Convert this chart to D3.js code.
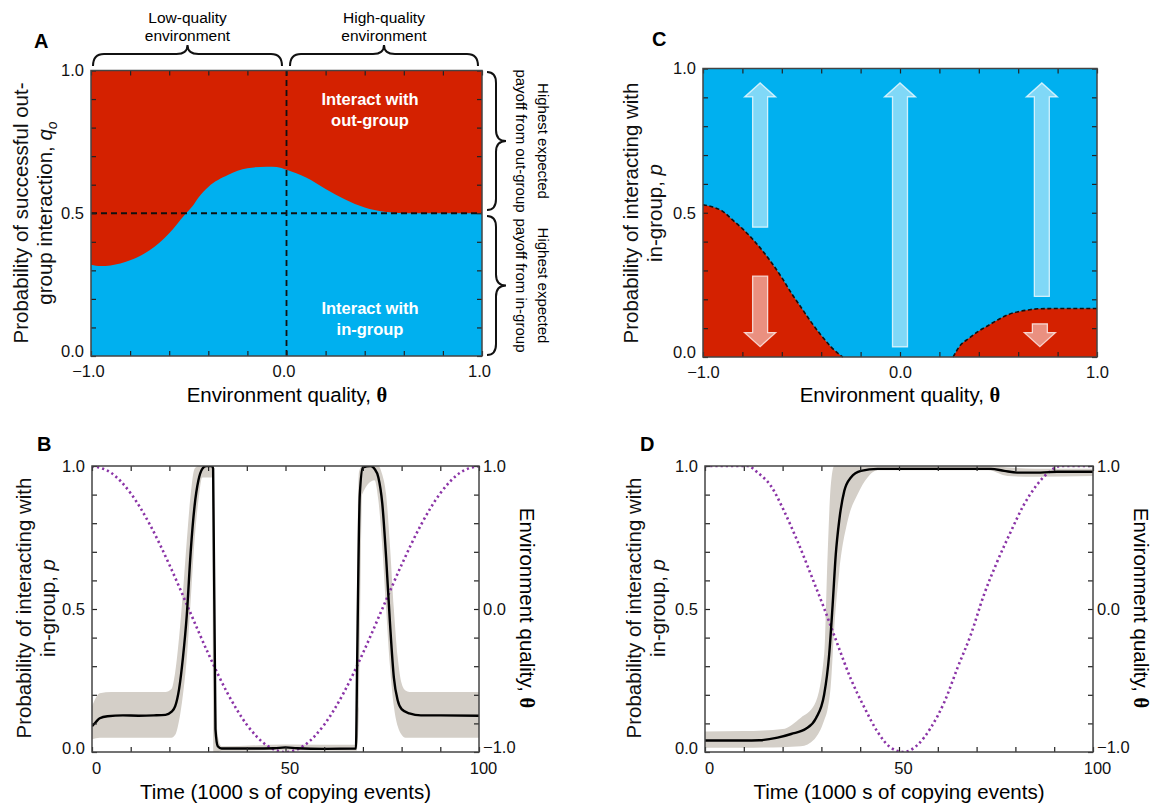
<!DOCTYPE html>
<html><head><meta charset="utf-8">
<script src="https://cdn.jsdelivr.net/npm/d3@7"></script>
<style>body{margin:0;background:#fff} svg{display:block} text{font-family:"Liberation Sans",Arial,Helvetica,sans-serif}</style>
</head><body><svg id="c" width="1159" height="804"></svg>
<script>
// ---------------- DATA ----------------
// Panel A: boundary q_o(theta) between in-group (below) and out-group (above)
const aTheta = [-1.0,-0.95,-0.9,-0.8,-0.7,-0.6,-0.52,-0.48,-0.45,-0.4,-0.3,-0.2,-0.1,-0.05,0.0,0.1,0.2,0.3,0.4,0.5,0.6,0.8,1.0];
const aQ     = [0.32,0.315,0.317,0.335,0.37,0.43,0.495,0.525,0.555,0.592,0.634,0.658,0.663,0.662,0.652,0.625,0.585,0.548,0.52,0.505,0.5,0.5,0.5];
const aXLabels = [-1, 0, 1];
const aYLabels = [0, 0.5, 1];

// Panel C: red regions (p below boundary)
const cLeftTheta  = [-1.0,-0.95,-0.9,-0.85,-0.8,-0.75,-0.7,-0.65,-0.6,-0.55,-0.5,-0.45,-0.4,-0.35,-0.31,-0.29];
const cLeftP      = [0.528,0.52,0.505,0.475,0.445,0.41,0.37,0.325,0.275,0.22,0.17,0.12,0.075,0.035,0.01,0.0];
const cRightTheta = [0.27,0.3,0.35,0.4,0.45,0.5,0.55,0.6,0.65,0.7,0.8,1.0];
const cRightP     = [0.0,0.035,0.065,0.09,0.11,0.13,0.147,0.157,0.163,0.167,0.168,0.168];
const cArrowsUp   = [{theta:-0.71, from:0.45, to:0.95},{theta:0.0, from:0.035, to:0.95},{theta:0.72, from:0.21, to:0.95}];
const cArrowsDown = [{theta:-0.71, from:0.28, to:0.036},{theta:0.71, from:0.115, to:0.036}];

// Panel B
const bT    = [0,1,2,4,8,12,16,19,20.5,21.5,22.5,23.5,24.5,25.5,26.5,27.5,28.5,29.5,31,31.3,31.9,32.5,33.5,40,47,50,53,60,68.2,68.5,69.2,70,72,73,74,75,76,77,78,79,80,82,85,90,100];
const bMean = [0.09,0.105,0.118,0.125,0.128,0.127,0.128,0.13,0.14,0.16,0.22,0.33,0.48,0.70,0.86,0.95,0.99,1.0,1.0,0.99,0.08,0.02,0.012,0.012,0.013,0.016,0.013,0.011,0.012,0.3,0.9,0.995,1.0,0.99,0.96,0.87,0.68,0.45,0.26,0.18,0.15,0.135,0.128,0.128,0.127];
const bBandT  = [0,1,2,5,10,15,19,20.5,21.5,22.5,23.5,24.5,25.5,26.5,27.5,28.5,31,31.4,31.9,32.6,33.5,50,68.2,68.4,69,69.8,73,74,75,76,77,78,79,80,81,82,90,100];
const bBandLo = [0.045,0.048,0.05,0.05,0.05,0.05,0.05,0.05,0.06,0.11,0.2,0.33,0.53,0.74,0.88,0.96,0.96,0.0,0.0,0.0,0.004,0.006,0.004,0.004,0.15,0.9,0.95,0.88,0.72,0.5,0.3,0.16,0.09,0.06,0.05,0.05,0.05,0.05];
const bBandHi = [0.16,0.19,0.205,0.21,0.21,0.21,0.21,0.22,0.28,0.4,0.56,0.74,0.9,0.99,1.0,1.0,1.0,1.0,0.25,0.05,0.02,0.026,0.025,0.45,0.98,1.0,1.0,1.0,0.97,0.9,0.72,0.5,0.33,0.24,0.215,0.21,0.21,0.21];
const bThetaT = [0,5,10,15,20,25,30,35,40,45,50,55,60,65,70,75,80,85,90,95,100];
const bThetaV = [1,0.951,0.809,0.588,0.309,0,-0.309,-0.588,-0.809,-0.951,-1,-0.951,-0.809,-0.588,-0.309,0,0.309,0.588,0.809,0.951,1];

// Panel D
const dT    = [0,5,10,14,18.7,22.2,26,28.6,30.7,32,32.9,33.7,34.6,35.9,37.6,40.2,44.5,60,73.7,77.1,80.5,86.5,90.8,100];
const dMean = [0.04,0.04,0.04,0.041,0.05,0.063,0.081,0.118,0.2,0.34,0.515,0.69,0.81,0.913,0.96,0.983,0.99,0.99,0.99,0.983,0.977,0.977,0.98,0.98];
const dBandT  = [0,10,15,20,24.7,28.2,30.7,31.6,32.4,33.3,34.6,36.8,39.3,41.9,44.5,73,78,85,100];
const dBandLo = [0.015,0.015,0.016,0.017,0.02,0.045,0.11,0.15,0.23,0.43,0.63,0.81,0.9,0.96,0.985,0.985,0.965,0.962,0.965];
const dBandHi = [0.072,0.073,0.075,0.08,0.12,0.165,0.34,0.69,0.93,1.0,1.0,1.0,1.0,1.0,1.0,1.0,0.995,0.99,0.99];
const dThetaT = [0,5,10,11,13.6,17,20.4,23.9,27.3,30.7,34.2,37.6,41.1,44.5,47.9,51.1,54.8,58.2,61.7,65.1,68.5,71.9,75.3,78.8,82.2,85.6,89,91.6,95,100];
const dThetaV = [1,1,1,1,0.953,0.86,0.684,0.47,0.24,0.005,-0.25,-0.49,-0.69,-0.86,-0.97,-1,-0.95,-0.83,-0.65,-0.41,-0.18,0.1,0.33,0.54,0.73,0.87,0.965,1,1,1];

const timeLabels = [0, 50, 100];
const pLabels = [0, 0.5, 1];
const thetaLabels = [-1, 0, 1];

// ---------------- STYLE ----------------
const RED = "#d42100", BLUE = "#00b0ef", BAND = "#d4cfc8", PURPLE = "#8a33a6";
const svg = d3.select("#c");
const fmt1 = d3.format(".1f");
const TICK_FS = 16.5, TITLE_FS = 20.5;

function ticksAll(g, x, y, xt, ytl, yr, ytr) {
  const [x0, x1] = x.range(), [yb, yt] = y.range();
  const axes = [
    [d3.axisBottom(x).tickValues(xt), `translate(0,${yb})`],
    [d3.axisTop(x).tickValues(xt), `translate(0,${yt})`],
    [d3.axisLeft(y).tickValues(ytl), `translate(${x0},0)`],
    [d3.axisRight(yr).tickValues(ytr), `translate(${x1},0)`]
  ];
  axes.forEach(([ax, tr]) => {
    const a = g.append("g").attr("transform", tr).call(ax.tickSize(-5).tickSizeOuter(0).tickFormat(""));
    a.select(".domain").remove();
    a.selectAll("line").attr("stroke", "#222").attr("stroke-width", 1.2);
  });
  g.append("rect").attr("x", x0).attr("y", yt).attr("width", x1 - x0).attr("height", yb - yt)
    .attr("fill", "none").attr("stroke", "#444").attr("stroke-width", 1.5);
}
function labelAxis(g, axis, tr, vals, fmt, pad) {
  const a = g.append("g").attr("transform", tr)
    .call(axis.tickValues(vals).tickSize(0).tickPadding(pad || 7).tickFormat(fmt));
  a.select(".domain").remove();
  a.selectAll("text").attr("font-size", TICK_FS).attr("fill", "#111")
    .attr("font-family", '"Liberation Sans",Arial,sans-serif');
  return a;
}
function panelLetter(t, x, y) {
  svg.append("text").attr("x", x).attr("y", y).attr("font-size", 20).attr("font-weight", "bold").text(t);
}
function thetaTitle(sel) {
  sel.append("tspan").text("Environment quality, ");
  sel.append("tspan").attr("font-family", '"Liberation Serif","Times New Roman",serif').attr("font-weight", "bold").text("θ");
}
function vTitle(x, y, rot, lines) {
  const t = svg.append("text").attr("transform", `translate(${x},${y}) rotate(${rot})`)
    .attr("text-anchor", "middle").attr("font-size", TITLE_FS).attr("fill", "#111");
  lines.forEach((l, i) => {
    const ts = t.append("tspan").attr("x", 0).attr("dy", i === 0 ? 0 : 24);
    l(ts);
  });
}
function hBrace(x1, x2, yEnd, yBody, yTip) {
  const m = (x1 + x2) / 2, r = 11;
  return `M${x1},${yEnd} Q${x1},${yBody} ${x1 + r},${yBody} L${m - r},${yBody} Q${m},${yBody} ${m},${yTip} Q${m},${yBody} ${m + r},${yBody} L${x2 - r},${yBody} Q${x2},${yBody} ${x2},${yEnd}`;
}
function vBrace(y1, y2, xEnd, xBody, xTip) {
  const m = (y1 + y2) / 2, r = 11;
  return `M${xEnd},${y1} Q${xBody},${y1} ${xBody},${y1 + r} L${xBody},${m - r} Q${xBody},${m} ${xTip},${m} Q${xBody},${m} ${xBody},${m + r} L${xBody},${y2 - r} Q${xBody},${y2} ${xEnd},${y2}`;
}

// ---------------- PANEL A ----------------
{
  const x = d3.scaleLinear([-1, 1], [91, 482]);
  const y = d3.scaleLinear([0, 1], [356, 70.5]);
  const g = svg.append("g");
  g.append("rect").attr("x", 91).attr("y", 70.5).attr("width", 391).attr("height", 285.5).attr("fill", RED);
  const pts = aTheta.map((t, i) => [t, aQ[i]]);
  g.append("path").datum(pts).attr("fill", BLUE)
    .attr("d", d3.area().x(d => x(d[0])).y0(y(0)).y1(d => y(d[1])).curve(d3.curveMonotoneX));
  g.append("line").attr("x1", x(-1)).attr("x2", x(1)).attr("y1", y(0.5)).attr("y2", y(0.5))
    .attr("stroke", "#111").attr("stroke-width", 1.8).attr("stroke-dasharray", "6,4");
  g.append("line").attr("x1", x(0)).attr("x2", x(0)).attr("y1", y(0)).attr("y2", y(1))
    .attr("stroke", "#111").attr("stroke-width", 1.8).attr("stroke-dasharray", "6,4");
  ticksAll(g, x, y, d3.range(-1, 1.001, 0.2), d3.range(0, 1.001, 0.1), y, d3.range(0, 1.001, 0.1));
  labelAxis(g, d3.axisBottom(x), `translate(0,${y(0)})`, aXLabels, fmt1, 9).selectAll("text").attr("dx", -3);
  labelAxis(g, d3.axisLeft(y), `translate(${x(-1)},0)`, aYLabels, fmt1).selectAll("text")
    .attr("dy", d => d === 0 ? "0.05em" : "0.32em");
  const inner = [["Interact with", 105], ["out-group", 126], ["Interact with", 314], ["in-group", 335]];
  inner.forEach(([s, yy]) => g.append("text").attr("x", 370).attr("y", yy).attr("text-anchor", "middle")
    .attr("fill", "#fff").attr("font-weight", "bold").attr("font-size", 16.5).text(s));
  svg.append("text").attr("x", 287).attr("y", 402).attr("text-anchor", "middle").attr("font-size", TITLE_FS).call(thetaTitle);
  vTitle(28, 213, -90, [ts => ts.text("Probability of successful out-"),
    ts => { ts.text("group interaction, ");
      ts.append("tspan").attr("font-style", "italic").text("q");
      ts.append("tspan").attr("font-style", "italic").attr("font-size", 14).attr("dy", 5).text("o"); }]);
  // braces top
  [[93, 282, "Low-quality"], [290, 478, "High-quality"]].forEach(([a, b, s]) => {
    svg.append("path").attr("d", hBrace(a, b, 66, 54, 45)).attr("fill", "none").attr("stroke", "#111").attr("stroke-width", 2);
    const m = (a + b) / 2;
    svg.append("text").attr("x", m).attr("y", 23).attr("text-anchor", "middle").attr("font-size", 15.5).text(s);
    svg.append("text").attr("x", m).attr("y", 41).attr("text-anchor", "middle").attr("font-size", 15.5).text("environment");
  });
  // braces right
  [[72, 210, "payoff from out-group"], [216, 355, "payoff from in-group"]].forEach(([a, b, s]) => {
    svg.append("path").attr("d", vBrace(a, b, 487, 496, 506)).attr("fill", "none").attr("stroke", "#111").attr("stroke-width", 2);
    const m = (a + b) / 2;
    const t = svg.append("text").attr("transform", `translate(0,${m}) rotate(90)`).attr("text-anchor", "middle").attr("font-size", 15);
    t.append("tspan").attr("x", 0).attr("y", -538).text("Highest expected");
    t.append("tspan").attr("x", 0).attr("y", -516).text(s);
  });
  panelLetter("A", 34, 48);
}

// ---------------- PANEL C ----------------
{
  const x = d3.scaleLinear([-1, 1], [703, 1097]);
  const y = d3.scaleLinear([0, 1], [357, 68.5]);
  const g = svg.append("g");
  g.append("rect").attr("x", 703).attr("y", 68.5).attr("width", 394).attr("height", 288.5).attr("fill", BLUE);
  const area = d3.area().x(d => x(d[0])).y0(y(0)).y1(d => y(d[1])).curve(d3.curveMonotoneX);
  const line = d3.line().x(d => x(d[0])).y(d => y(d[1])).curve(d3.curveMonotoneX);
  [[cLeftTheta, cLeftP], [cRightTheta, cRightP]].forEach(([T, P]) => {
    const pts = T.map((t, i) => [t, P[i]]);
    g.append("path").datum(pts).attr("fill", RED).attr("d", area);
    g.append("path").datum(pts).attr("fill", "none").attr("stroke", "#111").attr("stroke-width", 1.6)
      .attr("stroke-dasharray", "4,2.5").attr("d", line);
  });
  const arrow = (a, down) => {
    const cx = x(a.theta), y0 = y(a.from), tip = y(a.to);
    const head = 14, sw = 7.5, hw = 15.5;
    const hb = down ? tip - head : tip + head;
    return `M${cx - sw},${y0} L${cx - sw},${hb} L${cx - hw},${hb} L${cx},${tip} L${cx + hw},${hb} L${cx + sw},${hb} L${cx + sw},${y0} Z`;
  };
  cArrowsUp.forEach(a => g.append("path").attr("d", arrow(a, false)).attr("fill", "rgba(255,255,255,0.5)")
    .attr("stroke", "rgba(255,255,255,0.75)").attr("stroke-width", 1.3));
  cArrowsDown.forEach(a => g.append("path").attr("d", arrow(a, true)).attr("fill", "rgba(255,255,255,0.5)")
    .attr("stroke", "rgba(255,255,255,0.75)").attr("stroke-width", 1.3));
  ticksAll(g, x, y, d3.range(-1, 1.001, 0.2), d3.range(0, 1.001, 0.1), y, d3.range(0, 1.001, 0.1));
  labelAxis(g, d3.axisBottom(x), `translate(0,${y(0)})`, thetaLabels, fmt1, 9);
  labelAxis(g, d3.axisLeft(y), `translate(${x(-1)},0)`, pLabels, fmt1).selectAll("text")
    .attr("dy", d => d === 0 ? "0.05em" : "0.32em");
  svg.append("text").attr("x", 900).attr("y", 402).attr("text-anchor", "middle").attr("font-size", TITLE_FS).call(thetaTitle);
  vTitle(638, 213, -90, [ts => ts.text("Probability of interacting with"),
    ts => { ts.text("in-group, "); ts.append("tspan").attr("font-style", "italic").text("p"); }]);
  panelLetter("C", 652, 46);
}

// ---------------- PANELS B & D ----------------
function timePanel(x0, x1, T, M, BT, BL, BH, TT, TV, letter, lx, titleX, rTitleX) {
  const x = d3.scaleLinear([0, 100], [x0, x1]);
  const y = d3.scaleLinear([0, 1], [752, 466]);
  const y2 = d3.scaleLinear([-1, 1], [752, 466]);
  const id = "clip" + letter;
  svg.append("clipPath").attr("id", id).append("rect").attr("x", x0).attr("y", 466).attr("width", x1 - x0).attr("height", 286);
  const g = svg.append("g");
  const pg = g.append("g").attr("clip-path", `url(#${id})`);
  const band = BT.map((t, i) => [t, BL[i], BH[i]]);
  pg.append("path").datum(band).attr("fill", BAND)
    .attr("d", d3.area().x(d => x(d[0])).y0(d => y(d[1])).y1(d => y(d[2])).curve(d3.curveMonotoneX));
  const th = TT.map((t, i) => [t, TV[i]]);
  pg.append("path").datum(th).attr("fill", "none").attr("stroke", PURPLE).attr("stroke-width", 2.6)
    .attr("stroke-dasharray", "2.2,3").attr("d", d3.line().x(d => x(d[0])).y(d => y2(d[1])).curve(d3.curveMonotoneX));
  const mean = T.map((t, i) => [t, M[i]]);
  pg.append("path").datum(mean).attr("fill", "none").attr("stroke", "#000").attr("stroke-width", 2.4)
    .attr("stroke-linejoin", "round")
    .attr("d", d3.line().x(d => x(d[0])).y(d => y(d[1])).curve(d3.curveMonotoneX));
  ticksAll(g, x, y, d3.range(0, 100.001, 10), d3.range(0, 1.001, 0.1), y2, d3.range(-1, 1.001, 0.2));
  labelAxis(g, d3.axisBottom(x), `translate(0,752)`, timeLabels, d3.format("d"), 10).selectAll("text").attr("dx", 4);
  labelAxis(g, d3.axisLeft(y), `translate(${x0},0)`, pLabels, fmt1).selectAll("text")
    .attr("dy", d => d === 0 ? "0.1em" : "0.32em");
  labelAxis(g, d3.axisRight(y2), `translate(${x1},0)`, thetaLabels, fmt1, 4).selectAll("text")
    .attr("dy", d => d === -1 ? "0.0em" : "0.32em");
  svg.append("text").attr("x", (x0 + x1) / 2).attr("y", 799).attr("text-anchor", "middle").attr("font-size", TITLE_FS)
    .text("Time (1000 s of copying events)");
  vTitle(titleX, 608, -90, [ts => ts.text("Probability of interacting with"),
    ts => { ts.text("in-group, "); ts.append("tspan").attr("font-style", "italic").text("p"); }]);
  const rt = svg.append("text").attr("transform", `translate(${rTitleX},608) rotate(90)`)
    .attr("text-anchor", "middle").attr("font-size", TITLE_FS);
  rt.call(thetaTitle);
  panelLetter(letter, lx, 451);
}
timePanel(92, 479, bT, bMean, bBandT, bBandLo, bBandHi, bThetaT, bThetaV, "B", 37, 31, 520);
timePanel(705, 1093, dT, dMean, dBandT, dBandLo, dBandHi, dThetaT, dThetaV, "D", 640, 641, 1134);
</script></body></html>
